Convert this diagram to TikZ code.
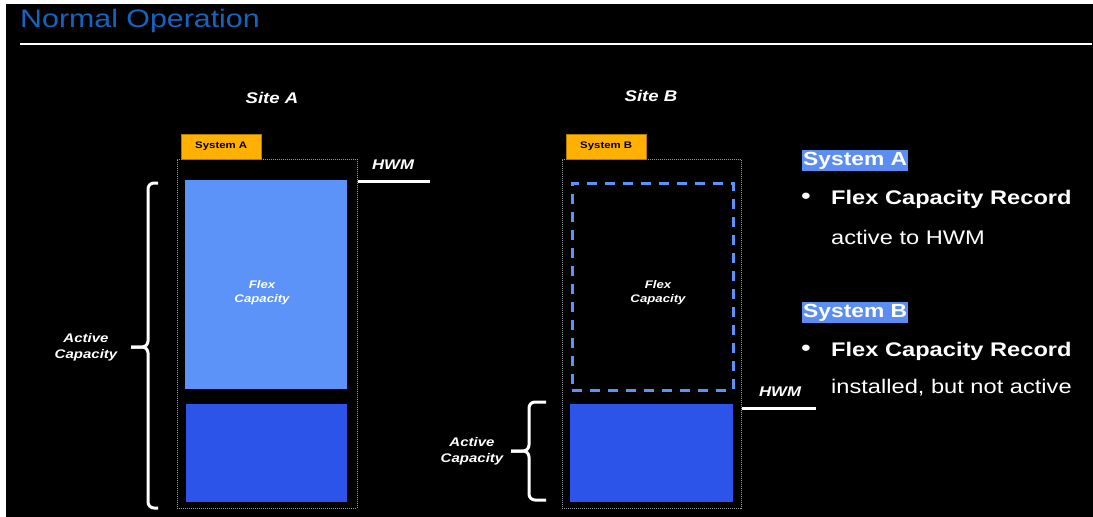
\documentclass[tikz,border=0pt]{standalone}
\usepackage{fontspec}
\setmainfont[FakeStretch=1.2]{Liberation Sans}
\usetikzlibrary{positioning}
\definecolor{TitleBlue}{HTML}{1565C0}
\definecolor{FlexBlue}{HTML}{5B93F9}
\definecolor{CoreBlue}{HTML}{2C54E8}
\definecolor{TagGold}{HTML}{FFB000}
\definecolor{MarkBlue}{HTML}{5B8EF0}
\definecolor{FrameGray}{HTML}{9A9A9A}
\tikzset{
  FR/.style={rectangle,draw=FrameGray,line width=0.8pt,dash pattern=on 1pt off 1pt,
             anchor=north west,inner sep=0pt},
  TG/.style={rectangle,fill=TagGold,draw=TagGold!70!black,line width=0.4pt,
             anchor=south west,minimum width=80pt,minimum height=25pt,inner sep=0pt,
             font=\fontsize{9.5}{11}\selectfont\bfseries,text=black},
  FX/.style={rectangle,fill=FlexBlue,anchor=north west,inner sep=0pt},
  FXd/.style={rectangle,draw=FlexBlue,line width=2.5pt,dash pattern=on 10pt off 8pt,
              anchor=north west,inner sep=0pt},
  AC/.style={rectangle,fill=CoreBlue,anchor=north west,inner sep=0pt},
  FT/.style={text=white,align=center,font=\fontsize{11}{14}\selectfont\bfseries\itshape},
  LB/.style={text=white,align=center,font=\fontsize{12.5}{16}\selectfont\bfseries\itshape},
  ST/.style={text=white,font=\fontsize{15.5}{18}\selectfont\bfseries\itshape},
  HW/.style={text=white,font=\fontsize{14}{16}\selectfont\bfseries\itshape},
  hwm/.style={draw=white,line width=3pt},
  brc/.style={draw=white,line width=3pt,rounded corners=6pt},
  MK/.style={rectangle,fill=MarkBlue,anchor=north west,inner xsep=1pt,inner ysep=0pt,
             minimum height=21pt,text=white,font=\fontsize{19}{21}\selectfont\bfseries},
  BL/.style={text=white,anchor=base west,inner sep=0pt,font=\fontsize{19.7}{24}\selectfont\bfseries},
  BT/.style={text=white,anchor=base west,inner sep=0pt,font=\fontsize{19.7}{24}\selectfont},
  DT/.style={text=white,inner sep=0pt,font=\fontsize{22}{24}\selectfont\bfseries}
}
\begin{document}
\begin{tikzpicture}[x=1pt,y=-1pt]
  \useasboundingbox[fill=white] (0,0) rectangle (1093,517);
  \fill[black] (6,4) rectangle (1093,517);

  % title
  \node[anchor=base west,inner sep=0pt,text=TitleBlue,font=\fontsize{25.3}{30}\selectfont] (title) at (20,27) {Normal Operation};
  \coordinate (ruleL) at (20,44);
  \coordinate (ruleR) at (1092,44);
  \draw[white,line width=2pt] (ruleL) -- (ruleR);

  % site A
  \node[ST] (siteA) at (272,98) {Site A};
  \node[FR,minimum width=180pt,minimum height=349pt] (frameA) at (177,159) {};
  \node[TG,right=4pt of frameA.north west,anchor=south west] (tagA) {System A};
  \node[FX,minimum width=162pt,minimum height=209pt] (flexA) at (185,180) {};
  \node[FT] (flexAtxt) at (262,293) {Flex\\Capacity};
  \node[AC,minimum width=161pt,minimum height=98pt] (actA) at (186,404) {};
  \coordinate (hwmA) at (430,181);
  \draw[hwm] (frameA.east |- hwmA) -- (hwmA);
  \node[HW] (hwmAtxt) at (393,165) {HWM};
  \coordinate (brAtop) at (158,183);
  \coordinate (brAbot) at (158,508);
  \coordinate (brAtip) at (131,347);
  \draw[brc] (brAtop) -- (148,183) -- (148,347) -- (brAtip);
  \draw[brc] (brAbot) -- (148,508) -- (148,347) -- (brAtip);
  \node[LB] (actAtxt) at (86,347) {Active\\Capacity};

  % site B
  \node[ST] (siteB) at (651,96) {Site B};
  \node[FR,minimum width=179pt,minimum height=349pt] (frameB) at (562,159) {};
  \node[TG,right=4pt of frameB.north west,anchor=south west] (tagB) {System B};
  \node[FXd,minimum width=161pt,minimum height=207pt] (flexB) at (571,182) {};
  \node[FT] (flexBtxt) at (658,293) {Flex\\Capacity};
  \node[AC,minimum width=163pt,minimum height=98pt] (actB) at (570,404) {};
  \coordinate (hwmB) at (816,408);
  \draw[hwm] (frameB.east |- hwmB) -- (hwmB);
  \node[HW] (hwmBtxt) at (780,392) {HWM};
  \coordinate (brBtop) at (546,402);
  \coordinate (brBbot) at (546,500);
  \coordinate (brBtip) at (511,451);
  \draw[brc] (brBtop) -- (529,402) -- (529,451) -- (brBtip);
  \draw[brc] (brBbot) -- (529,500) -- (529,451) -- (brBtip);
  \node[LB] (actBtxt) at (472,451) {Active\\Capacity};

  % notes
  \node[MK] (noteA) at (802,150) {System A};
  \node[DT] (dotA) at (806,198) {•};
  \node[BL] (recA) at (831,204) {Flex Capacity Record};
  \node[BT] (stA) at (831,244) {active to HWM};
  \node[MK] (noteB) at (802,302) {System B};
  \node[DT] (dotB) at (806,350) {•};
  \node[BL] (recB) at (831,356) {Flex Capacity Record};
  \node[BT] (stB) at (831,393) {installed, but not active};
\end{tikzpicture}
\end{document}
